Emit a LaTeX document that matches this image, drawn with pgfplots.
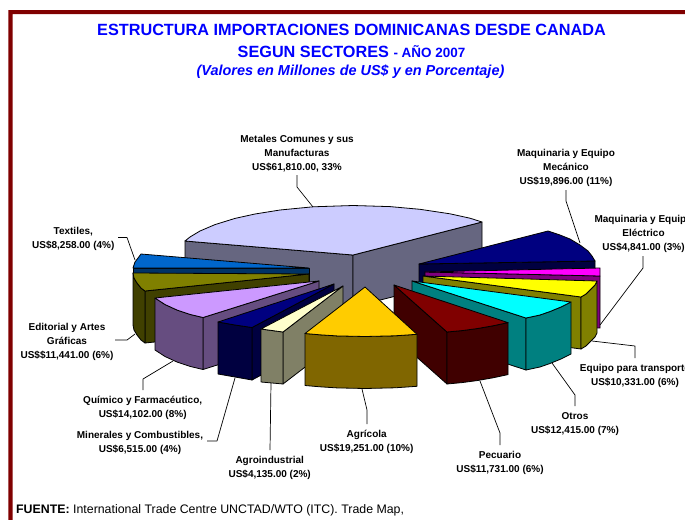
\documentclass[border=0pt]{standalone}
\usepackage{fontspec}
\setmainfont{Liberation Sans}
\usepackage{pgfplots}
\pgfplotsset{compat=1.18}

\definecolor{frame}{HTML}{800000}
\definecolor{title}{HTML}{0000FF}
\definecolor{metT}{HTML}{CCCCFF}\definecolor{metS}{HTML}{666680}
\definecolor{texT}{HTML}{0066CC}\definecolor{texS}{HTML}{003366}
\definecolor{ediT}{HTML}{808000}\definecolor{ediS}{HTML}{404000}
\definecolor{quiT}{HTML}{CC99FF}\definecolor{quiS}{HTML}{664D80}
\definecolor{minT}{HTML}{000080}\definecolor{minS}{HTML}{000040}
\definecolor{agiT}{HTML}{FFFFCC}\definecolor{agiS}{HTML}{808066}
\definecolor{agrT}{HTML}{FFCC00}\definecolor{agrS}{HTML}{806600}
\definecolor{pecT}{HTML}{800000}\definecolor{pecS}{HTML}{400000}
\definecolor{otrT}{HTML}{00FFFF}\definecolor{otrS}{HTML}{008080}
\definecolor{equT}{HTML}{FFFF00}\definecolor{equS}{HTML}{808000}
\definecolor{eleT}{HTML}{FF00FF}\definecolor{eleS}{HTML}{800080}
\definecolor{mecT}{HTML}{000080}\definecolor{mecS}{HTML}{000040}

\newcommand{\lab}[3]{\node[align=center,font=\fontsize{10.04}{14.05}\selectfont\bfseries,inner sep=0pt,yshift=-1.5bp] at (axis cs:#1,#2) {#3};}

\begin{document}
\begin{tikzpicture}
\useasboundingbox (0,0) rectangle (685bp,520bp);
\clip (0,0) rectangle (685bp,520bp);
\begin{axis}[
    at={(0,0)}, anchor=south west,
    width=685bp, height=520bp, scale only axis,
    xmin=0, xmax=685, ymin=0, ymax=520, y dir=reverse,
    hide axis, clip=false,
    every axis plot/.style={line width=0.8bp, draw=black, line join=round, forget plot},
]
% frame
\addplot[draw=none, fill=frame] coordinates {(8.3,10) (685,10) (685,14) (12.7,14) (12.7,520) (8.3,520)} --cycle;

% Metales
\addplot[fill=metS] coordinates {(185,241) (353,255) (353,307) (185,293)} --cycle;
\addplot[fill=metS] coordinates {(353,255) (482,222) (482,274) (353,307)} --cycle;
\addplot[fill=metT] coordinates {(353,255) (185,241) (190,237) (200,231) (215,224.6) (235,218.4) (255,214) (280,210) (313,206.8) (353,205.5) (390,206.6) (420,209.3) (450,213.8) (470,218.2) (482,222)} --cycle;
% Textiles
\addplot[fill=texS] coordinates {(133,268) (309,268) (309,320) (133,320)} --cycle;
\addplot[fill=texT] coordinates {(309,268) (141,254) (135,262) (133,268)} --cycle;
% Mecanico
\addplot[fill=mecS] coordinates {(419,264) (595,261) (595,313) (419,316)} --cycle;
\addplot[fill=mecT] coordinates {(419,264) (548,231) (560,235) (570,239) (580,245) (588,251) (592,256) (595,261)} --cycle;
% Electrico
\addplot[fill=eleS] coordinates {(425,272) (600,276) (600,328) (425,324)} --cycle;
\addplot[fill=eleT] coordinates {(425,272) (600,268) (600,276)} --cycle;
% Equipo para transporte
\addplot[fill=equS] coordinates {(423,276) (581,297) (581,349) (423,328)} --cycle;
\addplot[fill=equS] coordinates {(581,297) (586,294) (591,289) (595,285) (597,281) (597,333) (595,337) (591,341) (586,346) (581,349)} --cycle;
\addplot[fill=equT] coordinates {(423,276) (597,281) (595,285) (591,289) (586,294) (581,297)} --cycle;
% Otros
\addplot[fill=otrS] coordinates {(412,281) (526,318) (526,370) (412,333)} --cycle;
\addplot[fill=otrS] coordinates {(526,318) (540,315) (550,311.5) (561,307) (571,302) (571,354) (561,359) (550,363.5) (540,367) (526,370)} --cycle;
\addplot[fill=otrT] coordinates {(412,281) (571,302) (561,307) (550,311.5) (540,315) (526,318)} --cycle;
% Editorial
\addplot[fill=ediS] coordinates {(145,291) (309,274) (309,326) (145,343)} --cycle;
\addplot[fill=ediS] coordinates {(133,273) (134,278) (137,283) (141,288) (145,291) (145,343) (141,340) (137,335) (134,330) (133,325)} --cycle;
\addplot[fill=ediT] coordinates {(309,274) (133,273) (134,278) (137,283) (141,288) (145,291)} --cycle;
% Pecuario
\addplot[fill=pecS] coordinates {(394,285) (447,332) (447,384) (394,337)} --cycle;
\addplot[fill=pecS] coordinates {(447,332) (462,330.6) (477,328.6) (493,325.8) (508,322.6) (508,374.6) (493,377.8) (477,380.6) (462,382.6) (447,384)} --cycle;
\addplot[fill=pecT] coordinates {(394,285) (508,322.6) (493,325.8) (477,328.6) (462,330.6) (447,332)} --cycle;
% Quimico
\addplot[fill=quiS] coordinates {(203,317.5) (319,281) (319,333) (203,369.5)} --cycle;
\addplot[fill=quiS] coordinates {(155,298) (165,304.5) (177,310) (190,314.4) (203,317.5) (203,369.5) (190,366.4) (177,362) (165,356.5) (155,350)} --cycle;
\addplot[fill=quiT] coordinates {(319,281) (155,298) (165,304.5) (177,310) (190,314.4) (203,317.5)} --cycle;
% Minerales
\addplot[fill=minS] coordinates {(252,327.5) (334,284) (334,336) (252,380)} --cycle;
\addplot[fill=minS] coordinates {(218,322) (235,325) (252,327.5) (252,380) (235,377) (218,374)} --cycle;
\addplot[fill=minT] coordinates {(334,284) (218,322) (235,325) (252,327.5)} --cycle;
% Agroindustrial
\addplot[fill=agiS] coordinates {(283,332) (343,286) (343,338) (283,384)} --cycle;
\addplot[fill=agiS] coordinates {(261,329) (283,332) (283,384) (261,382)} --cycle;
\addplot[fill=agiT] coordinates {(343,286) (261,329) (283,332)} --cycle;
% Agricola
\addplot[fill=agrS] coordinates {(305,333.5) (320,334.8) (337,335.9) (365,336.5) (395,335.8) (417,334.3) (417,386.3) (395,387.8) (365,388.5) (337,387.9) (320,386.8) (305,385.5)} --cycle;
\addplot[fill=agrT] coordinates {(365,287) (305,333.5) (320,334.8) (337,335.9) (365,336.5) (395,335.8) (417,334.3)} --cycle;

% leader lines
\addplot[line width=0.7bp] coordinates {(297,175) (297,187) (313,207)};
\addplot[line width=0.7bp] coordinates {(566,190) (566,201) (580,243)};
\addplot[line width=0.7bp] coordinates {(643,256) (643,268) (600,325)};
\addplot[line width=0.7bp] coordinates {(592,341) (635,346) (635,358)};
\addplot[line width=0.7bp] coordinates {(552,363) (575,395) (575,406)};
\addplot[line width=0.7bp] coordinates {(480,381) (500,433) (500,445)};
\addplot[line width=0.7bp] coordinates {(362,389) (367,410) (367,424)};
\addplot[line width=0.7bp] coordinates {(271,383) (270,450)};
\addplot[line width=0.7bp] coordinates {(235,378) (217,441) (207,441)};
\addplot[line width=0.7bp] coordinates {(173,361) (143,379) (143,390)};
\addplot[line width=0.7bp] coordinates {(135,334) (127,340) (115,340)};
\addplot[line width=0.7bp] coordinates {(135,260) (127,237.5) (118,237.5)};

% labels
\lab{297}{152}{Metales Comunes y sus\\Manufacturas\\US\$61,810.00, 33\%}
\lab{566}{166}{Maquinaria y Equipo\\Mecánico\\US\$19,896.00 (11\%)}
\lab{643.5}{232}{Maquinaria y Equipo\\Eléctrico\\US\$4,841.00 (3\%)}
\lab{635}{374.5}{Equipo para transporte\\US\$10,331.00 (6\%)}
\lab{575}{423}{Otros\\US\$12,415.00 (7\%)}
\lab{500}{461}{Pecuario\\US\$11,731.00 (6\%)}
\lab{366.7}{440.3}{Agrícola\\US\$19,251.00 (10\%)}
\lab{269.7}{466.3}{Agroindustrial\\US\$4,135.00 (2\%)}
\lab{140}{441.3}{Minerales y Combustibles,\\US\$6,515.00 (4\%)}
\lab{142.7}{406}{Químico y Farmacéutico,\\US\$14,102.00 (8\%)}
\lab{67}{340}{Editorial y Artes\\Gráficas\\US\$\$11,441.00 (6\%)}
\lab{73.3}{237.5}{Textiles,\\US\$8,258.00 (4\%)}

% titles
\node[text=title,font=\fontsize{16.3}{16.3}\selectfont\bfseries,inner sep=0pt] at (axis cs:351.5,29.5) {ESTRUCTURA IMPORTACIONES DOMINICANAS DESDE CANADA};
\node[text=title,font=\fontsize{16.3}{16.3}\selectfont\bfseries,inner sep=0pt] at (axis cs:351.5,51.5) {SEGUN SECTORES {\fontsize{13.5}{13.5}\selectfont - AÑO 2007}};
\node[text=title,font=\fontsize{14.5}{14.5}\selectfont\bfseries\itshape,inner sep=0pt] at (axis cs:350.5,71.7) {(Valores en Millones de US\$ y en Porcentaje)};
\node[anchor=west,font=\fontsize{12.4}{12.4}\selectfont,inner sep=0pt] at (axis cs:16,510) {\textbf{FUENTE:} International Trade Centre UNCTAD/WTO (ITC). Trade Map,};
\end{axis}
\end{tikzpicture}
\end{document}
